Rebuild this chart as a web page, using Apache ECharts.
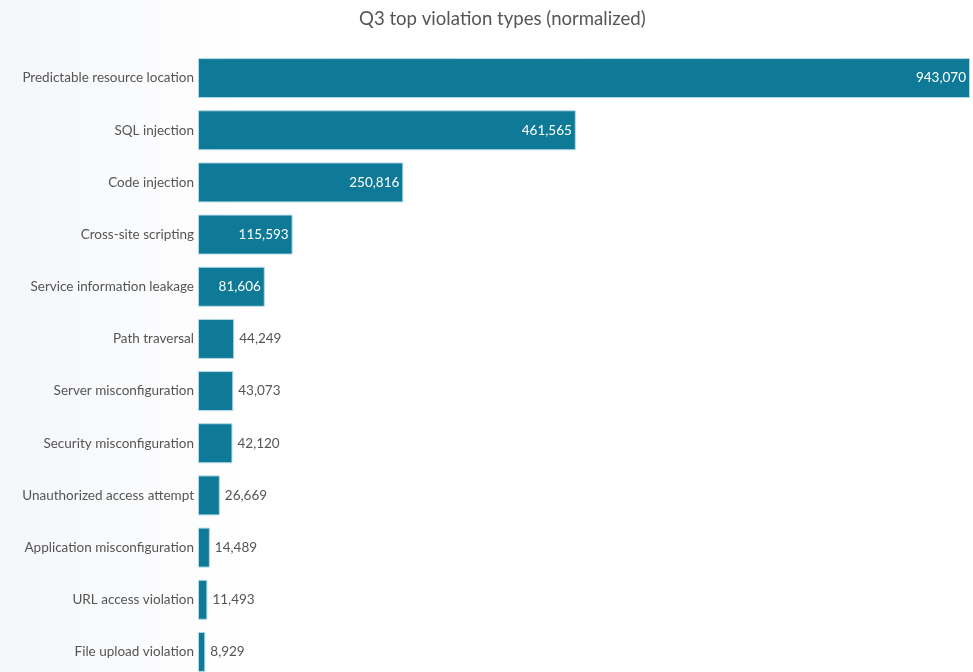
<!DOCTYPE html>
<html>
<head>
<meta charset="utf-8">
<title>Q3 top violation types</title>
<script src="https://cdn.jsdelivr.net/npm/echarts@6/dist/echarts.min.js"></script>
<style>
  html, body { margin: 0; padding: 0; background: #fff; overflow: hidden; }
  #wrap { width: 973px; height: 672px; overflow: hidden; }
  /* the plot runs slightly past the visible frame, so the last bar is cut */
  #chart { width: 973px; height: 680px; }
</style>
</head>
<body>
<div id="wrap"><div id="chart"></div></div>
<script>
// Violation categories, ordered from most to least frequent
const categories = [
  'Predictable resource location',
  'SQL injection',
  'Code injection',
  'Cross-site scripting',
  'Service information leakage',
  'Path traversal',
  'Server misconfiguration',
  'Security misconfiguration',
  'Unauthorized access attempt',
  'Application misconfiguration',
  'URL access violation',
  'File upload violation'
];

// Normalized counts for Q3
const counts = [943070, 461565, 250816, 115593, 81606, 44249, 43073, 42120, 26669, 14489, 11493, 8929];

const FONT = 'Lato, "Noto Sans", sans-serif';
const BAR = '#0f7a97';
// Bars wide enough to hold their number get the label inside
const INSIDE_MIN = 60000;

const chart = echarts.init(document.getElementById('chart'), null, { renderer: 'canvas' });

const fmt = v => v.toLocaleString('en-US');

chart.setOption({
  animation: false,
  backgroundColor: {
    type: 'linear', x: 0, y: 0, x2: 1, y2: 0,
    colorStops: [
      { offset: 0, color: '#f4f6f9' },
      { offset: 0.25, color: '#ffffff' },
      { offset: 1, color: '#ffffff' }
    ]
  },
  title: {
    text: 'Q3 top violation types (normalized)',
    left: 354,
    top: 4,
    textStyle: { fontFamily: FONT, fontSize: 18.6, fontWeight: 'normal', color: '#555' }
  },
  grid: { left: 198, right: 3, top: 52, bottom: 2, containLabel: false },
  xAxis: {
    type: 'value',
    min: 0,
    max: Math.max(...counts),
    show: false
  },
  yAxis: {
    type: 'category',
    inverse: true,
    data: categories,
    axisLine: { show: false },
    axisTick: { show: false },
    axisLabel: { margin: 4, fontFamily: FONT, fontSize: 13.5, color: '#555' }
  },
  series: [{
    type: 'bar',
    barWidth: 40,
    itemStyle: { color: BAR, borderColor: '#b5dae5', borderWidth: 1 },
    data: counts.map(v => ({
      value: v,
      label: v >= INSIDE_MIN
        ? { position: 'insideRight', distance: 4, color: '#ffffff' }
        : { position: 'right', distance: 5, color: '#555' }
    })),
    label: {
      show: true,
      fontFamily: FONT,
      fontSize: 13.5,
      formatter: p => fmt(p.value)
    }
  }]
});
</script>
</body>
</html>
